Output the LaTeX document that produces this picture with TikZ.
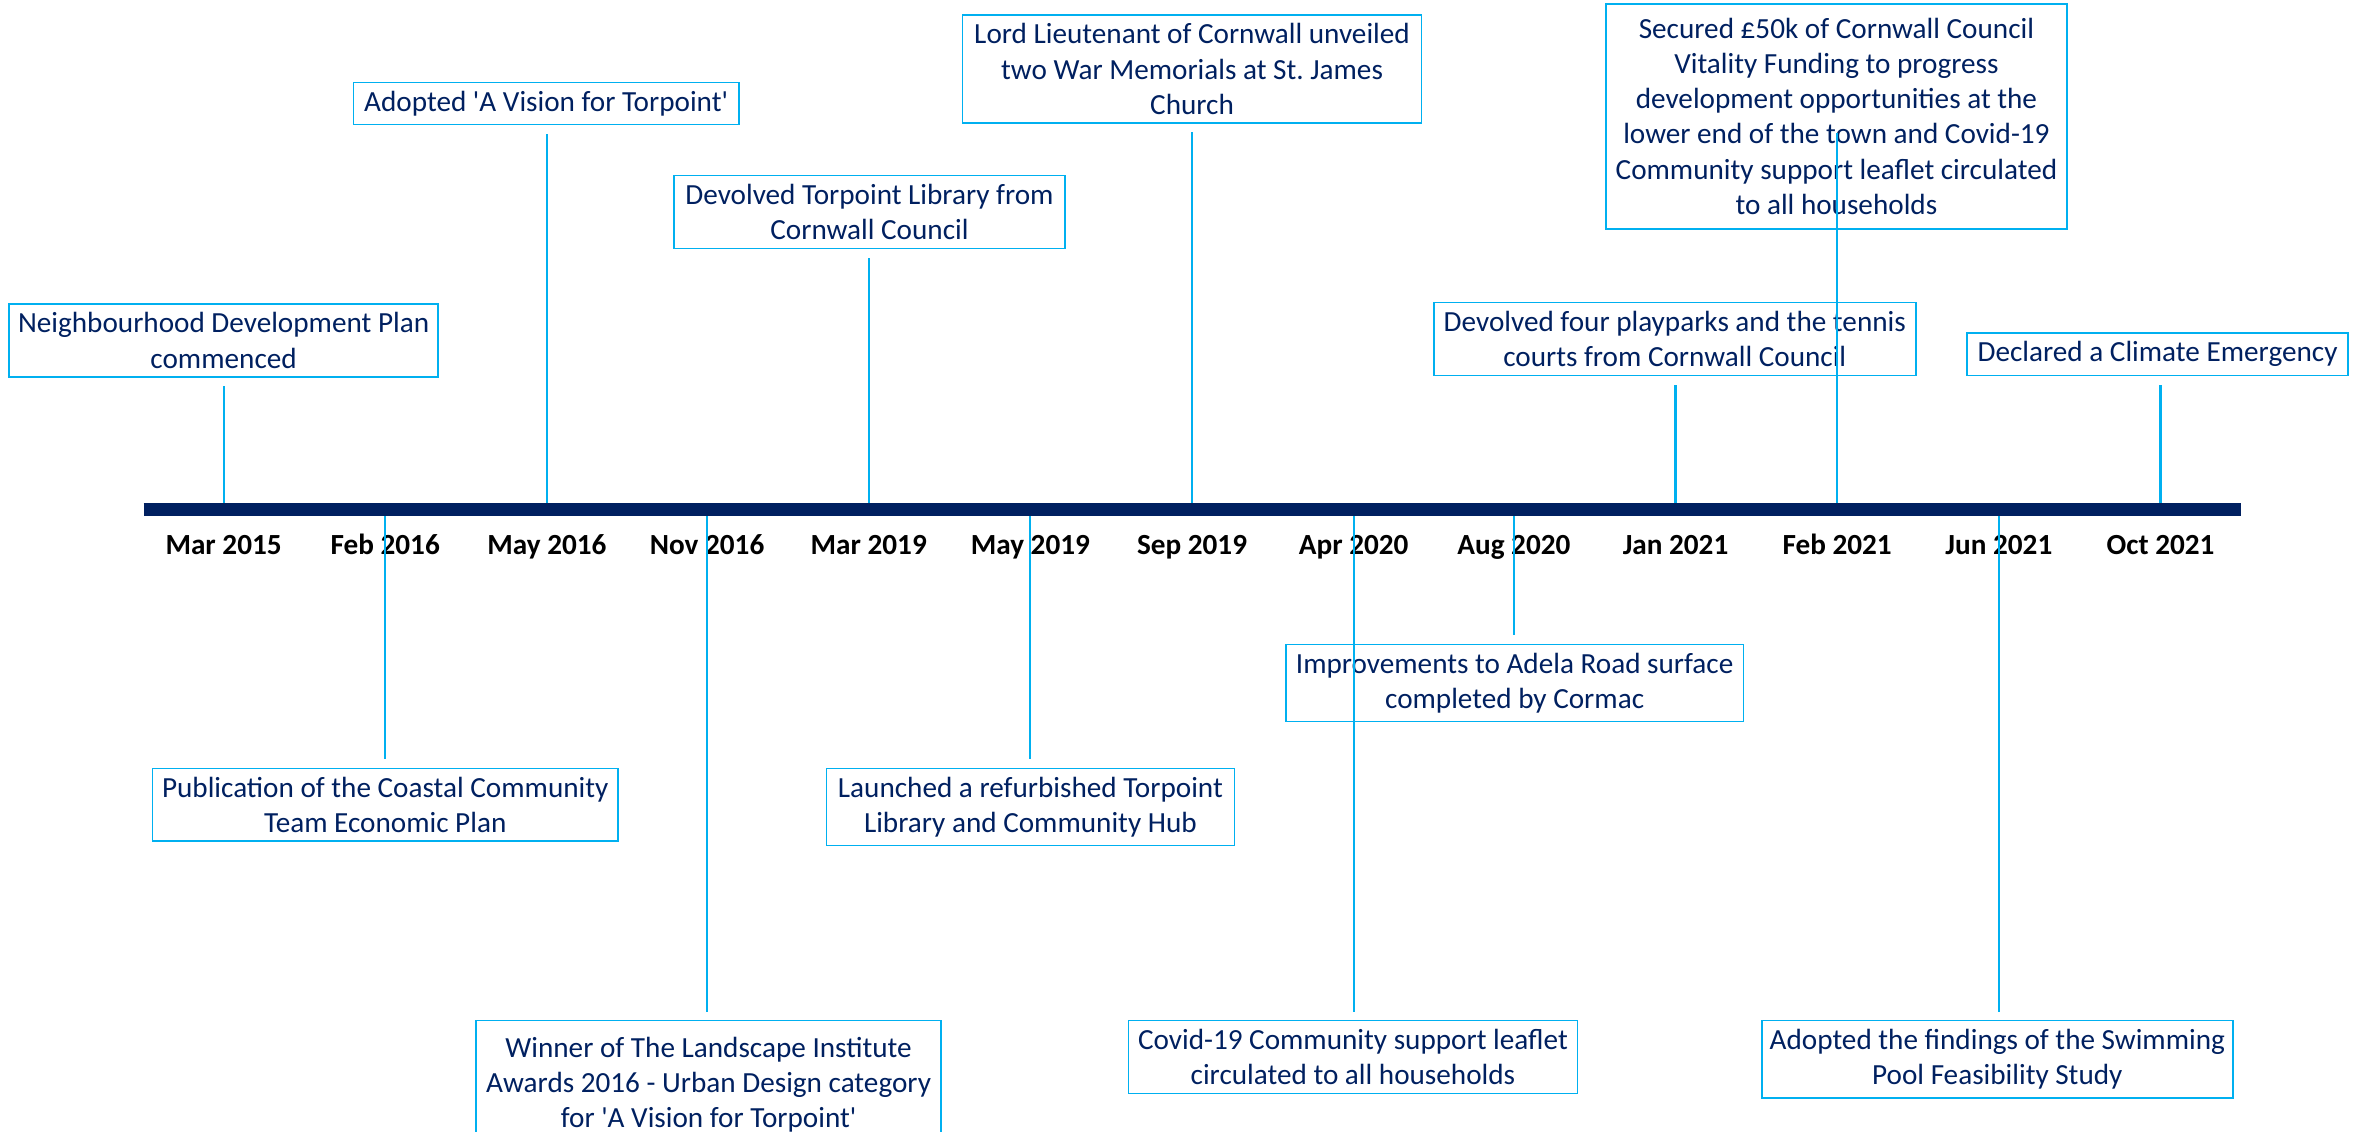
\documentclass[tikz,border=0pt]{standalone}
\usepackage{fontspec}
\setmainfont{Carlito}
\usetikzlibrary{positioning}
\definecolor{navy}{HTML}{002060}
\definecolor{cyanline}{HTML}{00B0F0}
\newcommand{\q}{\textquotesingle}
\frenchspacing

\begin{document}
\begin{tikzpicture}[x=0.02cm,y=-0.02cm,
	event/.style={draw=cyanline, line width=0.6pt, text=navy, align=center,
		inner xsep=2pt, inner ysep=3.2pt, font=\fontsize{11}{13.3}\selectfont},
	datelbl/.style={anchor=base, font=\fontsize{11}{13}\selectfont\bfseries},
	stem/.style={cyanline, line width=0.8pt, shorten >=0.11cm}]
			\useasboundingbox (0,0) rectangle (1568,749);
			
			% Axe
			\coordinate (axisL) at (95,337);
			\coordinate (axisR) at (1483,337);
			\coordinate (t1) at (148,337);
			\coordinate (t2) at (255,337);
			\coordinate (t3) at (362,337);
			\coordinate (t4) at (468,337);
			\coordinate (t5) at (575,337);
			\coordinate (t6) at (682,337);
			\coordinate (t7) at (789,337);
			\coordinate (t8) at (896,337);
			\coordinate (t9) at (1002,337);
			\coordinate (t10) at (1109,337);
			\coordinate (t11) at (1216,337);
			\coordinate (t12) at (1323,337);
			\coordinate (t13) at (1430,337);
			
			% Dates
			\node[datelbl] (d1) at (148,367) {Mar 2015};
			\node[datelbl] (d2) at (255,367) {Feb 2016};
			\node[datelbl] (d3) at (362,367) {May 2016};
			\node[datelbl] (d4) at (468,367) {Nov 2016};
			\node[datelbl] (d5) at (575,367) {Mar 2019};
			\node[datelbl] (d6) at (682,367) {May 2019};
			\node[datelbl] (d7) at (789,367) {Sep 2019};
			\node[datelbl] (d8) at (896,367) {Apr 2020};
			\node[datelbl] (d9) at (1002,367) {Aug 2020};
			\node[datelbl] (d10) at (1109,367) {Jan 2021};
			\node[datelbl] (d11) at (1216,367) {Feb 2021};
			\node[datelbl] (d12) at (1323,367) {Jun 2021};
			\node[datelbl] (d13) at (1430,367) {Oct 2021};
			
			% Evenements au-dessus
			\node[event, anchor=south, minimum width=5.68cm] (plan) at (148,250)
				{Neighbourhood Development Plan\\commenced};
			\node[event, anchor=south, minimum width=5.1cm] (vision) at (361.5,83)
				{Adopted \q A Vision for Torpoint\q};
			\node[event, anchor=south, minimum width=5.18cm] (library) at (575.5,165)
				{Devolved Torpoint Library from\\Cornwall Council};
			\node[event, anchor=south, minimum width=6.08cm] (memorial) at (789,82)
				{Lord Lieutenant of Cornwall unveiled\\two War Memorials at St. James\\Church};
			\node[event, anchor=south, minimum width=6.38cm] (playparks) at (1108.5,249)
				{Devolved four playparks and the tennis\\courts from Cornwall Council};
			\node[event, anchor=south, minimum width=6.1cm, minimum height=2.98cm] (vitality) at (1215.5,152)
				{Secured £50k of Cornwall Council\\Vitality Funding to progress\\development opportunities at the\\lower end of the town and Covid-19\\Community support leaflet circulated\\to all households};
			\node[event, anchor=south, minimum width=5.04cm] (climate) at (1428,249)
				{Declared a Climate Emergency};
			
			% Evenements au-dessous
			\node[event, anchor=north, minimum width=6.16cm] (coastal) at (255,508)
				{Publication of the Coastal Community\\Team Economic Plan};
			\node[event, anchor=north, minimum width=6.16cm, minimum height=1.7cm] (award) at (469,675)
				{Winner of The Landscape Institute\\Awards 2016 - Urban Design category\\for \q A Vision for Torpoint\q};
			\node[event, anchor=north, minimum width=5.4cm] (hub) at (682,508)
				{Launched a refurbished Torpoint\\Library and Community Hub};
			\node[event, anchor=north, minimum width=5.94cm] (leaflet) at (895.5,675)
				{Covid-19 Community support leaflet\\circulated to all households};
			\node[event, anchor=north, minimum width=6.06cm] (adela) at (1002.5,426)
				{Improvements to Adela Road surface\\completed by Cormac};
			\node[event, anchor=north, minimum width=6.24cm] (pool) at (1322,675)
				{Adopted the findings of the Swimming\\Pool Feasibility Study};
			
			% Traits
			\coordinate (vitEnd) at (1216,88);
			\draw[stem] (t1) -- (t1 |- plan.south);
			\draw[stem] (t2) -- (t2 |- coastal.north);
			\draw[stem] (t3) -- (t3 |- vision.south);
			\draw[stem] (t4) -- (t4 |- award.north);
			\draw[stem] (t5) -- (t5 |- library.south);
			\draw[stem] (t6) -- (t6 |- hub.north);
			\draw[stem] (t7) -- (t7 |- memorial.south);
			\draw[stem] (t8) -- (t8 |- leaflet.north);
			\draw[stem] (t9) -- (t9 |- adela.north);
			\draw[stem] (t10) -- (t10 |- playparks.south);
			\draw[stem, shorten >=0pt] (t11) -- (vitEnd);
			\draw[stem] (t12) -- (t12 |- pool.north);
			\draw[stem] (t13) -- (t13 |- climate.south);
			
			% Barre
			\draw[navy, line width=5pt] (axisL) -- (axisR);
		\end{tikzpicture}
\end{document}
